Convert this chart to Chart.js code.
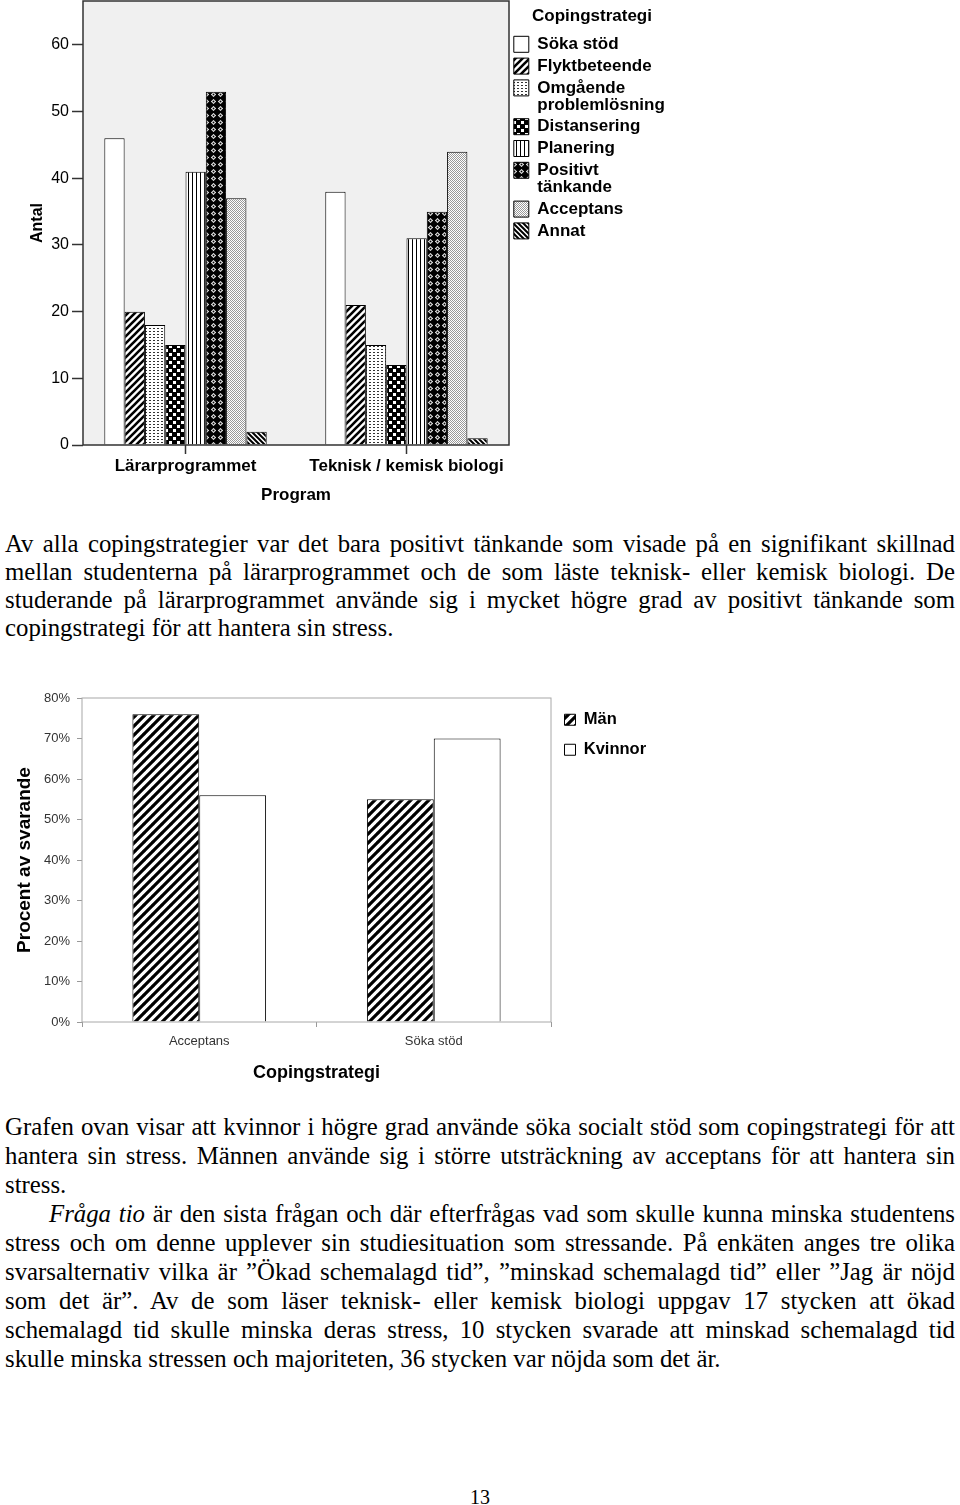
<!DOCTYPE html>
<html lang="sv">
<head>
<meta charset="utf-8">
<script src="https://cdn.jsdelivr.net/npm/chart.js@4.4.1/dist/chart.umd.min.js"></script>
<style>
  body { margin: 0; background: #fff; width: 960px; height: 1505px; position: relative; overflow: hidden;
         font-family: "Liberation Serif", "Times New Roman", serif; color: #000; }
  .wrap { position: absolute; left: 0; width: 960px; }
  #wrap1 { top: 0; height: 512px; }
  #wrap2 { top: 680px; height: 410px; }
  .txt { position: absolute; left: 5px; width: 950px; font-size: 24.8px; }
  .txt div { height: 28px; line-height: 28px; text-align: justify; text-align-last: justify; }
  .txt div.last { text-align-last: left; }
  #t1 { top: 530px; }
  #t2 { top: 1112px; }
  #t2 div { height: 29px; line-height: 29px; }
  .ind { padding-left: 44px; }
  #pg { position: absolute; top: 1486px; left: 0; width: 960px; text-align: center; font-size: 20px; }
</style>
</head>
<body>
<div class="wrap" id="wrap1"><canvas id="chart1"></canvas></div>

<div class="txt" id="t1">
  <div>Av alla copingstrategier var det bara positivt tänkande som visade på en signifikant skillnad</div>
  <div>mellan studenterna på lärarprogrammet och de som läste teknisk- eller kemisk biologi. De</div>
  <div>studerande på lärarprogrammet använde sig i mycket högre grad av positivt tänkande som</div>
  <div class="last">copingstrategi för att hantera sin stress.</div>
</div>

<div class="wrap" id="wrap2"><canvas id="chart2"></canvas></div>

<div class="txt" id="t2">
  <div>Grafen ovan visar att kvinnor i högre grad använde söka socialt stöd som copingstrategi för att</div>
  <div>hantera sin stress. Männen använde sig i större utsträckning av acceptans för att hantera sin</div>
  <div class="last">stress.</div>
  <div class="ind"><i>Fråga tio</i> är den sista frågan och där efterfrågas vad som skulle kunna minska studentens</div>
  <div>stress och om denne upplever sin studiesituation som stressande. På enkäten anges tre olika</div>
  <div>svarsalternativ vilka är ”Ökad schemalagd tid”, ”minskad schemalagd tid” eller ”Jag är nöjd</div>
  <div>som det är”. Av de som läser teknisk- eller kemisk biologi uppgav 17 stycken att ökad</div>
  <div>schemalagd tid skulle minska deras stress, 10 stycken svarade att minskad schemalagd tid</div>
  <div class="last">skulle minska stressen och majoriteten, 36 stycken var nöjda som det är.</div>
</div>

<div id="pg">13</div>

<script>
// diagram 1: antal per program och copingstrategi
const programs = ["Lärarprogrammet", "Teknisk / kemisk biologi"];
const strategies = ["Söka stöd", "Flyktbeteende", "Omgående problemlösning", "Distansering",
                    "Planering", "Positivt tänkande", "Acceptans", "Annat"];
const lararprogrammet = [46, 20, 18, 15, 41, 53, 37, 2];
const tekniskBiologi = [38, 21, 15, 12, 31, 35, 44, 1];
const antalTicks = [0, 10, 20, 30, 40, 50, 60];

// diagram 2: procent av svarande per kön
const strategies2 = ["Acceptans", "Söka stöd"];
const man = [76, 55];
const kvinnor = [56, 70];

const SANS = '"Liberation Sans", Arial, sans-serif';
Chart.defaults.font.family = SANS;

// svartvita mönster som i SPSS/Excel
function tile(w, h, draw, bg) {
  const c = document.createElement("canvas");
  c.width = w;
  c.height = h;
  const g = c.getContext("2d");
  g.fillStyle = bg || "#fff";
  g.fillRect(0, 0, w, h);
  draw(g, w, h);
  return g.createPattern(c, "repeat");
}

function stripes(p, lw, back) {
  return tile(p, p, (g) => {
    g.strokeStyle = "#000";
    g.lineWidth = lw;
    g.beginPath();
    for (let k = -1; k <= 1; k++) {
      if (back) {
        g.moveTo(k * p - 1, -1);
        g.lineTo(k * p + p + 1, p + 1);
      } else {
        g.moveTo(k * p - 1, p + 1);
        g.lineTo(k * p + p + 1, -1);
      }
    }
    g.stroke();
  });
}

const fills1 = [
  "#fff",
  stripes(7, 2.6, false),
  tile(4, 3, (g) => { g.fillStyle = "#333"; g.fillRect(1, 1, 2, 1); }),
  tile(8, 8, (g) => { g.fillStyle = "#fff"; g.fillRect(1, 1, 3, 3); g.fillRect(5, 5, 3, 3); }, "#000"),
  tile(4, 1, (g) => { g.fillStyle = "#000"; g.fillRect(0, 0, 1, 1); }),
  tile(7, 7, (g) => {
    // vita romber med svart prick
    g.fillStyle = "#fff";
    g.beginPath();
    g.moveTo(3.5, 0.9); g.lineTo(6.1, 3.5); g.lineTo(3.5, 6.1); g.lineTo(0.9, 3.5);
    g.closePath();
    g.fill();
    g.fillStyle = "#000";
    g.fillRect(2.6, 2.6, 1.8, 1.8);
  }, "#000"),
  tile(2, 2, (g) => { g.fillStyle = "#999"; g.fillRect(0, 0, 1, 1); g.fillRect(1, 1, 1, 1); }),
  stripes(5, 2, true),
];

const framePlugin = {
  id: "frame",
  beforeDraw(chart, args, opts) {
    const a = chart.chartArea;
    if (!opts.fill) return;
    const ctx = chart.ctx;
    ctx.save();
    ctx.fillStyle = opts.fill;
    ctx.fillRect(a.left, a.top, a.width, a.height);
    ctx.restore();
  },
  afterDatasetsDraw(chart, args, opts) {
    const a = chart.chartArea;
    const ctx = chart.ctx;
    ctx.save();
    ctx.strokeStyle = opts.stroke;
    ctx.lineWidth = opts.width || 1;
    ctx.strokeRect(a.left, a.top, a.width, a.height);
    ctx.restore();
  },
};

function legendWidth(w) {
  return {
    id: "legendWidth",
    beforeInit(chart) {
      const fit = chart.legend.fit;
      chart.legend.fit = function () {
        fit.call(this);
        this.width = w;
      };
    },
  };
}

// långa namn bryts på två rader i förklaringen
function splitLabels(chart) {
  return Chart.defaults.plugins.legend.labels.generateLabels(chart).map((l) => {
    if (l.text.length > 14 && l.text.includes(" ")) {
      const i = l.text.indexOf(" ");
      l.text = [l.text.slice(0, i), l.text.slice(i + 1)];
    }
    return l;
  });
}

new Chart(document.getElementById("chart1"), {
  type: "bar",
  data: {
    labels: programs,
    datasets: strategies.map((s, i) => ({
      label: s,
      data: [lararprogrammet[i], tekniskBiologi[i]],
      backgroundColor: fills1[i],
      borderColor: "#000",
      borderWidth: 1,
    })),
  },
  options: {
    responsive: true,
    maintainAspectRatio: false,
    animation: false,
    layout: { padding: { top: 1, right: 285, left: 0, bottom: 0 } },
    datasets: { bar: { categoryPercentage: 0.735, barPercentage: 1 } },
    plugins: {
      tooltip: { enabled: false },
      frame: { fill: "#f0f0f0", stroke: "#333", width: 1.5 },
      legend: {
        position: "right",
        align: "start",
        title: {
          display: true,
          text: "Copingstrategi",
          position: "center",
          color: "#000",
          font: { size: 17, weight: "bold", lineHeight: 1 },
          padding: { top: 6.5, bottom: 6.5 },
        },
        labels: {
          color: "#000",
          boxWidth: 15,
          boxHeight: 16,
          padding: 4.8,
          font: { size: 17, weight: "bold", lineHeight: 1 },
          generateLabels: splitLabels,
        },
      },
    },
    scales: {
      x: {
        offset: true,
        // SPSS lägger grupperna lite närmare kanterna än Chart.js
        afterBuildTicks: (s) => { s._startValue = -0.464; s._valueRange = 1.928; },
        grid: { offset: false, drawOnChartArea: false, tickLength: 9, tickColor: "#333", tickWidth: 1.5 },
        border: { display: false },
        ticks: { color: "#000", padding: 2, autoSkip: false, maxRotation: 0, font: { size: 17, weight: "bold" } },
        title: {
          display: true,
          text: "Program",
          color: "#000",
          font: { size: 17, weight: "bold" },
          padding: { top: 0, bottom: 6 },
        },
        afterFit: (s) => { s.height = 67; s.paddingLeft = 0; s.paddingRight = 0; },
      },
      y: {
        min: 0,
        max: 66.6,
        afterBuildTicks: (s) => { s.ticks = antalTicks.map((v) => ({ value: v })); },
        ticks: { color: "#000", padding: 3, font: { size: 16 } },
        grid: { drawOnChartArea: false, tickLength: 11, tickColor: "#333", tickWidth: 1.5 },
        border: { display: false },
        title: {
          display: true,
          text: "Antal",
          color: "#000",
          font: { size: 16, weight: "bold" },
          padding: { top: 28 },
        },
        afterFit: (s) => { s.width = 83; s.paddingTop = 0; s.paddingBottom = 0; },
      },
    },
  },
  plugins: [framePlugin, legendWidth(166)],
});

new Chart(document.getElementById("chart2"), {
  type: "bar",
  data: {
    labels: strategies2,
    datasets: [
      { label: "Män", data: man, backgroundColor: stripes(9, 3.2, false), borderColor: "#000", borderWidth: 1 },
      { label: "Kvinnor", data: kvinnor, backgroundColor: "#fff", borderColor: "#000", borderWidth: 1 },
    ],
  },
  options: {
    responsive: true,
    maintainAspectRatio: false,
    animation: false,
    layout: { padding: { top: 18, right: 289, left: 0, bottom: 0 } },
    datasets: { bar: { categoryPercentage: 0.57, barPercentage: 1 } },
    plugins: {
      tooltip: { enabled: false },
      frame: { stroke: "#a8a8a8", width: 1 },
      legend: {
        position: "right",
        align: "start",
        labels: {
          color: "#000",
          boxWidth: 11,
          boxHeight: 11,
          padding: 13.5,
          font: { size: 16.5, weight: "bold", lineHeight: 1 },
        },
      },
    },
    scales: {
      x: {
        grid: { drawOnChartArea: false, tickLength: 5, tickColor: "#999" },
        border: { display: false },
        ticks: { color: "#333", padding: 7, font: { size: 13 } },
        title: {
          display: true,
          text: "Copingstrategi",
          color: "#000",
          font: { size: 18, weight: "bold" },
          padding: { top: 0, bottom: 6 },
        },
        afterFit: (s) => { s.height = 68; s.paddingLeft = 0; s.paddingRight = 0; },
      },
      y: {
        min: 0,
        max: 80,
        ticks: { stepSize: 10, color: "#333", padding: 7, font: { size: 13 }, callback: (v) => v + "%" },
        grid: { drawOnChartArea: false, tickLength: 5, tickColor: "#999" },
        border: { display: false },
        title: {
          display: true,
          text: "Procent av svarande",
          color: "#000",
          font: { size: 19, weight: "bold" },
          padding: { top: 13.5 },
        },
        afterFit: (s) => { s.width = 82; s.paddingTop = 0; s.paddingBottom = 0; },
      },
    },
  },
  plugins: [framePlugin, legendWidth(120)],
});
</script>
</body>
</html>
